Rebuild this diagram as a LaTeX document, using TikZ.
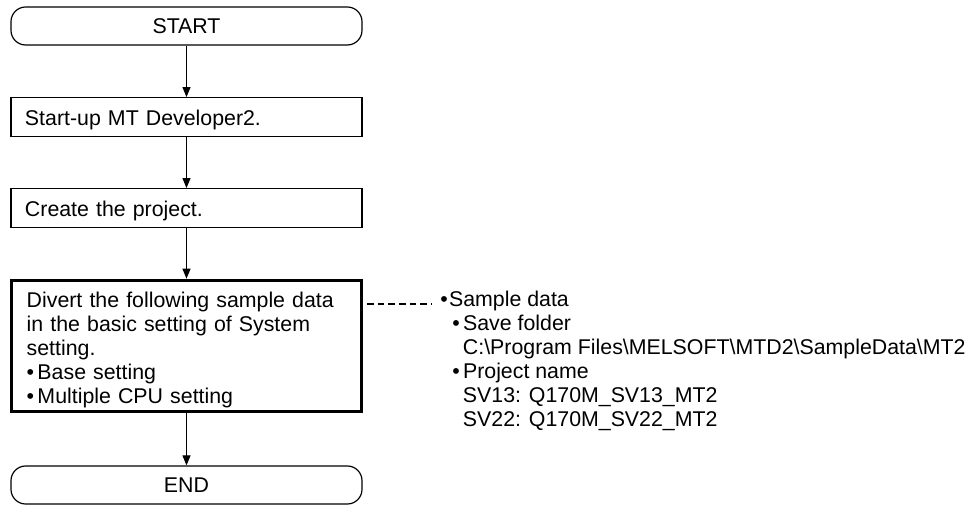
\documentclass[tikz,border=0pt]{standalone}
\usepackage{fontspec}
\setmainfont{Liberation Sans}
\usetikzlibrary{arrows.meta}
\begin{document}
\begin{tikzpicture}[x=0.75pt,y=-0.75pt,font=\fontsize{16pt}{18pt}\selectfont,
  >={Triangle[length=7.5pt,width=6pt]},
  term/.style={draw,line width=0.9pt,rounded corners=11pt,minimum width=263.25pt,minimum height=28.5pt,inner sep=0pt,text height=11.25pt,text depth=0pt},
  proc/.style={draw,line width=0.9pt,minimum width=263.25pt,minimum height=29pt,inner xsep=10.5pt,inner ysep=0pt,text width=242.25pt,align=left,text height=13.5pt,text depth=0pt},
  flow/.style={->,line width=0.8pt},
  link/.style={line width=0.8pt,dash pattern=on 5pt off 3pt,dash phase=5pt}]
  \useasboundingbox (0,0) rectangle (976,505);
  % flow
  \node[term] (start) at (186.5,26) {START};
  \node[proc] (launch) at (186.5,117) {Start-up MT Developer2.};
  \node[proc] (create) at (186.5,208) {Create the project.};
  \node[draw,line width=2.4pt,minimum width=262.5pt,minimum height=98.6pt,inner xsep=11.4pt,inner ysep=0pt,text width=239.7pt,align=left,text height=12pt,text depth=69.5pt] (divert) at (186.5,346)
    {Divert the following sample data\\in the basic setting of System\\setting.\\•\hspace{2.5pt}Base setting\\•\hspace{2.5pt}Multiple CPU setting};
  \node[term] (end) at (186.5,485) {END};
  \draw[flow] (start) -- (launch);
  \draw[flow] (launch) -- (create);
  \draw[flow] (create) -- (divert);
  \draw[flow] (divert) -- (end);
  % sample data note
  \node[anchor=base west,inner xsep=6pt,inner ysep=0pt,text height=8pt,text depth=3.5pt] (sample) at (432,307) {•\hspace{1pt}Sample data};
  \node[anchor=base west,inner sep=0pt,align=left] (detail) at (440,427)
    {\hspace*{9pt}•\hspace{2.5pt}Save folder\\
     \hspace*{17pt}C:\textbackslash Program Files\textbackslash MELSOFT\textbackslash MTD2\textbackslash SampleData\textbackslash MT2\\
     \hspace*{9pt}•\hspace{2.5pt}Project name\\
     \hspace*{17pt}SV13: Q170M\_SV13\_MT2\\
     \hspace*{17pt}SV22: Q170M\_SV22\_MT2};
  \draw[link] (divert.east |- sample.west) -- (sample.west);
\end{tikzpicture}
\end{document}
